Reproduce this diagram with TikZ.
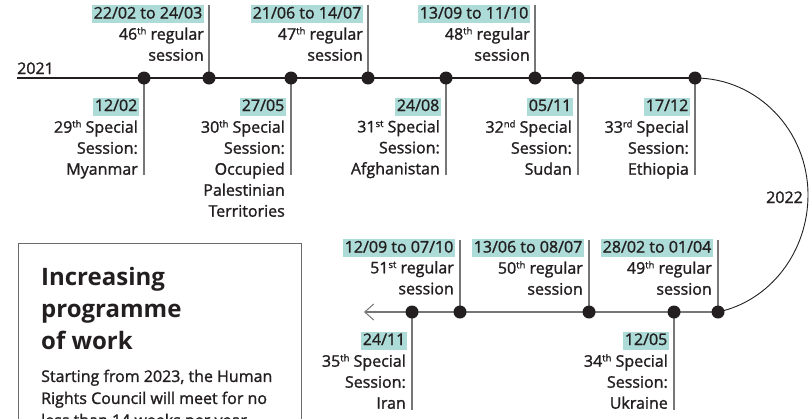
\documentclass[tikz,border=0pt]{standalone}
\usepackage{fontspec}
\setmainfont{Open Sans}
\newfontfamily\labelfont{Open Sans}[FakeBold=1.4]
\usepackage{xcolor}
\usetikzlibrary{arrows.meta,backgrounds,positioning}
\definecolor{ink}{HTML}{231F20}
\definecolor{hilite}{HTML}{ADDCD8}
\definecolor{stemgray}{HTML}{767676}
\definecolor{boxgray}{HTML}{6A6A6A}
\newcommand{\ord}[1]{\raisebox{0.62ex}{\fontsize{9.5}{9.5}\selectfont #1}}
\tikzset{
	dot/.style={circle,fill=ink,inner sep=0pt,minimum size=13pt},
	stem/.style={draw=stemgray,line width=1.3pt},
	date/.style={fill=hilite,text=ink,inner xsep=1.5pt,inner ysep=2pt,text height=11.5pt,text depth=2.5pt,anchor=east},
	info/.style={align=right,inner sep=0pt,text=ink,anchor=north east,font=\labelfont\fontsize{16}{21}\selectfont},
	year/.style={inner sep=0pt,text=ink,font=\labelfont\fontsize{16}{21}\selectfont}
}
\begin{document}
\begin{tikzpicture}[x=1pt,y=-1pt,every node/.append style={font=\labelfont\fontsize{16}{21}\selectfont}]
	\useasboundingbox (0,0) rectangle (811,418);
	% dots of 2021
	\node[dot] (t1) at (144,78) {};
	\node[dot] (t2) at (209,78) {};
	\node[dot] (t3) at (291,78) {};
	\node[dot] (t4) at (368,78) {};
	\node[dot] (t5) at (446,78) {};
	\node[dot] (t6) at (535,78) {};
	\node[dot] (t7) at (578,78) {};
	\node[dot] (t8) at (695,78) {};
	% dots of 2022
	\node[dot] (b1) at (412,312) {};
	\node[dot] (b2) at (460,312) {};
	\node[dot] (b3) at (589,312) {};
	\node[dot] (b4) at (674,312) {};
	\node[dot] (b5) at (718,312) {};
	\coordinate (start) at (17,78);
	\coordinate (bend) at (808,195);
	\coordinate (tip) at (364,312);
	\begin{scope}[on background layer]
		\draw[ink,line width=1.2pt] (start) -- (t8.center);
		\draw[ink,line width=0.9pt] (t8.center) .. controls (757,78) and (808,130) .. (bend) .. controls (808,252) and (770,301) .. (b5.center);
		\draw[stemgray,line width=1.3pt,-{Straight Barb[length=9pt,width=16pt,line width=1pt]}] (b5.center) -- (tip);
		\draw[stem] (t2.center) -- ++(0,-73);
		\draw[stem] (t4.center) -- ++(0,-73);
		\draw[stem] (t6.center) -- ++(0,-73);
		\draw[stem] (t1.center) -- ++(0,97);
		\draw[stem] (t3.center) -- ++(0,97);
		\draw[stem] (t5.center) -- ++(0,97);
		\draw[stem] (t7.center) -- ++(0,97);
		\draw[stem] (t8.center) -- ++(0,97);
		\draw[stem] (b2.center) -- ++(0,-72);
		\draw[stem] (b3.center) -- ++(0,-72);
		\draw[stem] (b5.center) -- ++(0,-72);
		\draw[stem] (b1.center) -- ++(0,98);
		\draw[stem] (b4.center) -- ++(0,98);
	\end{scope}
	\node[year,anchor=base west] (y2021) at (17,74) {2021};
	\node[year,anchor=base east] (y2022) at (803,203) {2022};
	% regular sessions 2021
	\node[date] (d2) at (204,14) {22/02 to 24/03};
	\node[info] (s2) at (204,27) {46\ord{th} regular\\session};
	\node[date] (d4) at (363,14) {21/06 to 14/07};
	\node[info] (s4) at (363,27) {47\ord{th} regular\\session};
	\node[date] (d6) at (530,14) {13/09 to 11/10};
	\node[info] (s6) at (530,27) {48\ord{th} regular\\session};
	% special sessions 2021
	\node[date] (d1) at (139,106.5) {12/02};
	\node[info] (s1) at (138,120) {29\ord{th} Special\\Session:\\Myanmar};
	\node[date] (d3) at (286,106.5) {27/05};
	\node[info] (s3) at (285,120) {30\ord{th} Special\\Session:\\Occupied\\Palestinian\\Territories};
	\node[date] (d5) at (441,106.5) {24/08};
	\node[info] (s5) at (440,120) {31\ord{st} Special\\Session:\\Afghanistan};
	\node[date] (d7) at (573,106.5) {05/11};
	\node[info] (s7) at (572,120) {32\ord{nd} Special\\Session:\\Sudan};
	\node[date] (d8) at (690,106.5) {17/12};
	\node[info] (s8) at (689,120) {33\ord{rd} Special\\Session:\\Ethiopia};
	% regular sessions 2022
	\node[date] (e2) at (455,248) {12/09 to 07/10};
	\node[info] (r2) at (454,261) {51\ord{st} regular\\session};
	\node[date] (e3) at (584,248) {13/06 to 08/07};
	\node[info] (r3) at (583,261) {50\ord{th} regular\\session};
	\node[date] (e5) at (713,248) {28/02 to 01/04};
	\node[info] (r5) at (712,261) {49\ord{th} regular\\session};
	% special sessions 2022
	\node[date] (e1) at (407,340.5) {24/11};
	\node[info] (r1) at (406,354) {35\ord{th} Special\\Session:\\Iran};
	\node[date] (e4) at (669,340.5) {12/05};
	\node[info] (r4) at (668,354) {34\ord{th} Special\\Session:\\Ukraine};
	% text box
	\draw[boxgray,line width=1pt] (18,243) rectangle (301,450);
	\node[anchor=north west,inner sep=0pt,align=left,text=ink,font=\bfseries\fontsize{24}{32}\selectfont] (title) at (41,267) {Increasing\\programme\\of work};
	\node[anchor=north west,inner sep=0pt,align=left,text=ink,font=\labelfont\fontsize{16}{22}\selectfont] (body) at (41,369.5) {Starting from 2023, the Human\\Rights Council will meet for no\\less than 14 weeks per year.};
\end{tikzpicture}
\end{document}
